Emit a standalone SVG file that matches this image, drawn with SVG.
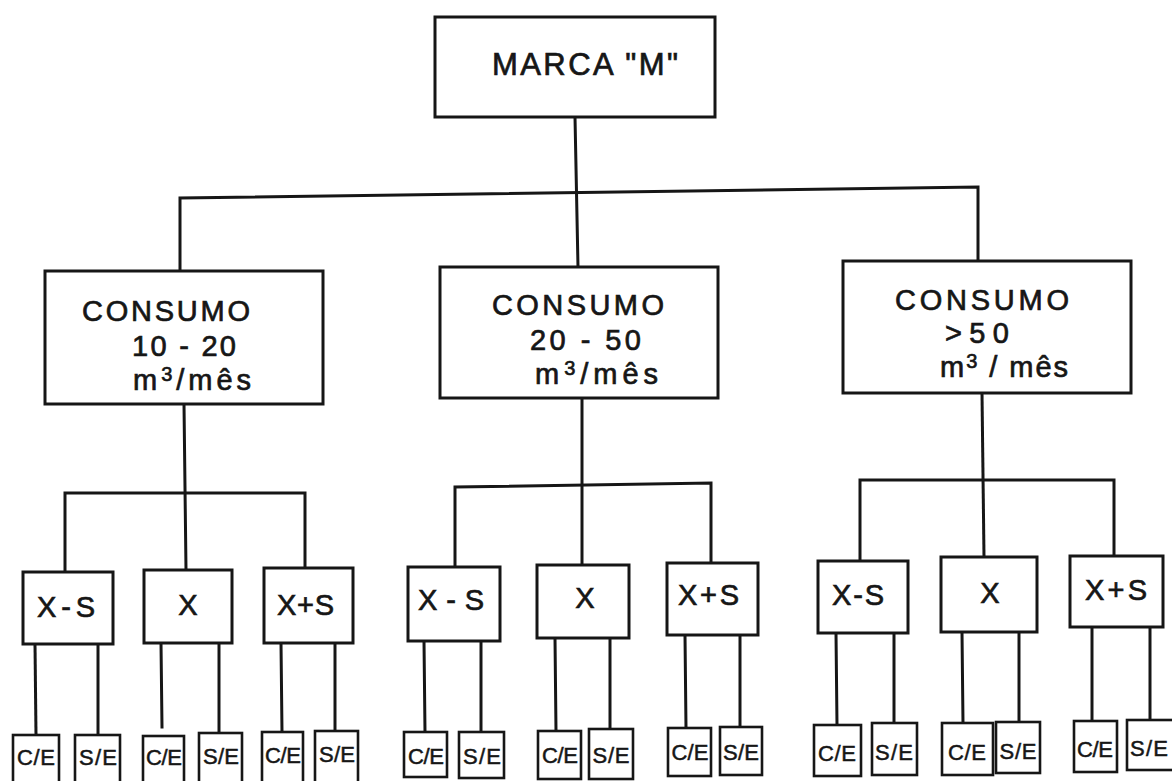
<svg xmlns="http://www.w3.org/2000/svg" width="1172" height="781" viewBox="0 0 1172 781">
<style>
.bg{fill:#ffffff}
.box{fill:#ffffff;stroke:#161616;stroke-width:3}
.sbox{fill:#ffffff;stroke:#161616;stroke-width:2.6}
.wire{fill:none;stroke:#161616;stroke-width:3;stroke-linecap:square}
.t{font-family:"Liberation Sans",Arial,sans-serif;fill:#161616;stroke:#161616;stroke-width:0.7}
.big{font-size:29px}
.mid{font-size:29px}
.sm{font-size:22px;stroke-width:0.5}
.c{text-anchor:middle}
</style>
<rect class="bg" x="0" y="0" width="1172" height="781"/>
<g id="connectors">
<line class="wire" x1="575" y1="117" x2="578" y2="267"/>
<path class="wire" d="M180,271 V198 L978,187 V261"/>
<line class="wire" x1="184" y1="404" x2="186" y2="570"/>
<path class="wire" d="M65,572 V493 H305 V568"/>
<line class="wire" x1="582" y1="398" x2="582" y2="565"/>
<path class="wire" d="M455,567 V487 L711,483 V563"/>
<line class="wire" x1="982" y1="393" x2="984" y2="557"/>
<path class="wire" d="M860,561 V480 H1114 V556"/>
<line class="wire" x1="35" y1="644" x2="36" y2="735"/>
<line class="wire" x1="98" y1="644" x2="98" y2="735"/>
<line class="wire" x1="161" y1="643" x2="162" y2="727"/>
<line class="wire" x1="219" y1="643" x2="219" y2="733"/>
<line class="wire" x1="281" y1="643" x2="282" y2="732"/>
<line class="wire" x1="335" y1="643" x2="335" y2="731"/>
<line class="wire" x1="424" y1="641" x2="425" y2="732"/>
<line class="wire" x1="481" y1="641" x2="481" y2="732"/>
<line class="wire" x1="555" y1="638" x2="556" y2="731"/>
<line class="wire" x1="610" y1="638" x2="610" y2="729"/>
<line class="wire" x1="685" y1="635" x2="686" y2="728"/>
<line class="wire" x1="740" y1="635" x2="740" y2="727"/>
<line class="wire" x1="836" y1="633" x2="837" y2="725"/>
<line class="wire" x1="894" y1="633" x2="894" y2="723"/>
<line class="wire" x1="962" y1="632" x2="963" y2="723"/>
<line class="wire" x1="1019" y1="632" x2="1019" y2="722"/>
<line class="wire" x1="1092" y1="627" x2="1092" y2="721"/>
<line class="wire" x1="1150" y1="627" x2="1150" y2="720"/>
</g>
<g id="marca">
<rect class="box" x="435" y="17" width="280" height="100"/>
<text class="t" x="492" y="75" font-size="31" textLength="186" lengthAdjust="spacing">MARCA "M"</text>
</g>
<g id="consumo-10-20">
<rect class="box" x="45" y="271" width="278" height="133"/>
<text class="t big" x="82" y="321" textLength="168" lengthAdjust="spacing">CONSUMO</text>
<text class="t big" x="132" y="356" textLength="104" lengthAdjust="spacing">10 - 20</text>
<text class="t big" x="133" y="390" textLength="118" lengthAdjust="spacing">m<tspan dy="-9" font-size="20">3</tspan><tspan dy="9">/mês</tspan></text>
</g>
<g id="consumo-20-50">
<rect class="box" x="440" y="267" width="278" height="131"/>
<text class="t big" x="492" y="315" textLength="172" lengthAdjust="spacing">CONSUMO</text>
<text class="t big" x="530" y="350" textLength="111" lengthAdjust="spacing">20 - 50</text>
<text class="t big" x="535" y="384" textLength="123" lengthAdjust="spacing">m<tspan dy="-9" font-size="20">3</tspan><tspan dy="9">/mês</tspan></text>
</g>
<g id="consumo-50">
<rect class="box" x="843" y="261" width="288" height="132"/>
<text class="t big" x="895" y="310" textLength="174" lengthAdjust="spacing">CONSUMO</text>
<text class="t big" x="945" y="343" textLength="64" lengthAdjust="spacing">&gt;50</text>
<text class="t big" x="940" y="377" textLength="128" lengthAdjust="spacing">m<tspan dy="-9" font-size="20">3</tspan><tspan dy="9"> / mês</tspan></text>
</g>
<g id="g1-xms"><rect class="box" x="23" y="572" width="90" height="72"/><text class="t mid" x="37" y="617" textLength="58" lengthAdjust="spacing">X-S</text></g>
<g id="g1-x"><rect class="box" x="144" y="570" width="88" height="73"/><text class="t mid c" x="188" y="615">X</text></g>
<g id="g1-xps"><rect class="box" x="264" y="568" width="89" height="75"/><text class="t mid" x="277" y="615" textLength="57" lengthAdjust="spacing">X+S</text></g>
<g id="g2-xms"><rect class="box" x="408" y="567" width="92" height="74"/><text class="t mid" x="418" y="610" textLength="66" lengthAdjust="spacing">X-S</text></g>
<g id="g2-x"><rect class="box" x="537" y="565" width="92" height="73"/><text class="t mid c" x="585" y="608">X</text></g>
<g id="g2-xps"><rect class="box" x="667" y="563" width="91" height="72"/><text class="t mid" x="678" y="605" textLength="61" lengthAdjust="spacing">X+S</text></g>
<g id="g3-xms"><rect class="box" x="818" y="561" width="90" height="72"/><text class="t mid" x="832" y="605" textLength="52" lengthAdjust="spacing">X-S</text></g>
<g id="g3-x"><rect class="box" x="941" y="557" width="96" height="75"/><text class="t mid c" x="990" y="603">X</text></g>
<g id="g3-xps"><rect class="box" x="1070" y="556" width="93" height="71"/><text class="t mid" x="1085" y="600" textLength="62" lengthAdjust="spacing">X+S</text></g>
<g id="g1-ce1"><rect class="sbox" x="13" y="735" width="46" height="60"/><text class="t sm c" x="36" y="765" textLength="38" lengthAdjust="spacing">C/E</text></g>
<g id="g1-se1"><rect class="sbox" x="75" y="735" width="45" height="60"/><text class="t sm c" x="98" y="765" textLength="38" lengthAdjust="spacing">S/E</text></g>
<g id="g1-ce2"><rect class="sbox" x="143" y="736" width="41" height="60"/><text class="t sm c" x="164" y="765" textLength="36" lengthAdjust="spacing">C/E</text></g>
<g id="g1-se2"><rect class="sbox" x="199" y="733" width="43" height="60"/><text class="t sm c" x="221" y="764" textLength="36" lengthAdjust="spacing">S/E</text></g>
<g id="g1-ce3"><rect class="sbox" x="262" y="732" width="41" height="60"/><text class="t sm c" x="283" y="763" textLength="36" lengthAdjust="spacing">C/E</text></g>
<g id="g1-se3"><rect class="sbox" x="315" y="731" width="43" height="60"/><text class="t sm c" x="337" y="762" textLength="36" lengthAdjust="spacing">S/E</text></g>
<g id="g2-ce1"><rect class="sbox" x="404" y="732" width="43" height="45"/><text class="t sm c" x="426" y="764" textLength="36" lengthAdjust="spacing">C/E</text></g>
<g id="g2-se1"><rect class="sbox" x="459" y="732" width="45" height="46"/><text class="t sm c" x="482" y="764" textLength="38" lengthAdjust="spacing">S/E</text></g>
<g id="g2-ce2"><rect class="sbox" x="538" y="731" width="43" height="48"/><text class="t sm c" x="560" y="763" textLength="36" lengthAdjust="spacing">C/E</text></g>
<g id="g2-se2"><rect class="sbox" x="589" y="729" width="44" height="50"/><text class="t sm c" x="611" y="763" textLength="37" lengthAdjust="spacing">S/E</text></g>
<g id="g2-ce3"><rect class="sbox" x="668" y="728" width="43" height="48"/><text class="t sm c" x="690" y="760" textLength="37" lengthAdjust="spacing">C/E</text></g>
<g id="g2-se3"><rect class="sbox" x="720" y="727" width="42" height="48"/><text class="t sm c" x="741" y="760" textLength="36" lengthAdjust="spacing">S/E</text></g>
<g id="g3-ce1"><rect class="sbox" x="814" y="725" width="47" height="51"/><text class="t sm c" x="837" y="761" textLength="38" lengthAdjust="spacing">C/E</text></g>
<g id="g3-se1"><rect class="sbox" x="872" y="723" width="45" height="52"/><text class="t sm c" x="894" y="760" textLength="38" lengthAdjust="spacing">S/E</text></g>
<g id="g3-ce2"><rect class="sbox" x="942" y="723" width="51" height="52"/><text class="t sm c" x="967" y="760" textLength="38" lengthAdjust="spacing">C/E</text></g>
<g id="g3-se2"><rect class="sbox" x="996" y="722" width="44" height="51"/><text class="t sm c" x="1018" y="759" textLength="37" lengthAdjust="spacing">S/E</text></g>
<g id="g3-ce3"><rect class="sbox" x="1074" y="721" width="43" height="51"/><text class="t sm c" x="1095" y="757" textLength="36" lengthAdjust="spacing">C/E</text></g>
<g id="g3-se3"><rect class="sbox" x="1127" y="720" width="48" height="50"/><text class="t sm c" x="1149" y="756" textLength="38" lengthAdjust="spacing">S/E</text></g>
</svg>
